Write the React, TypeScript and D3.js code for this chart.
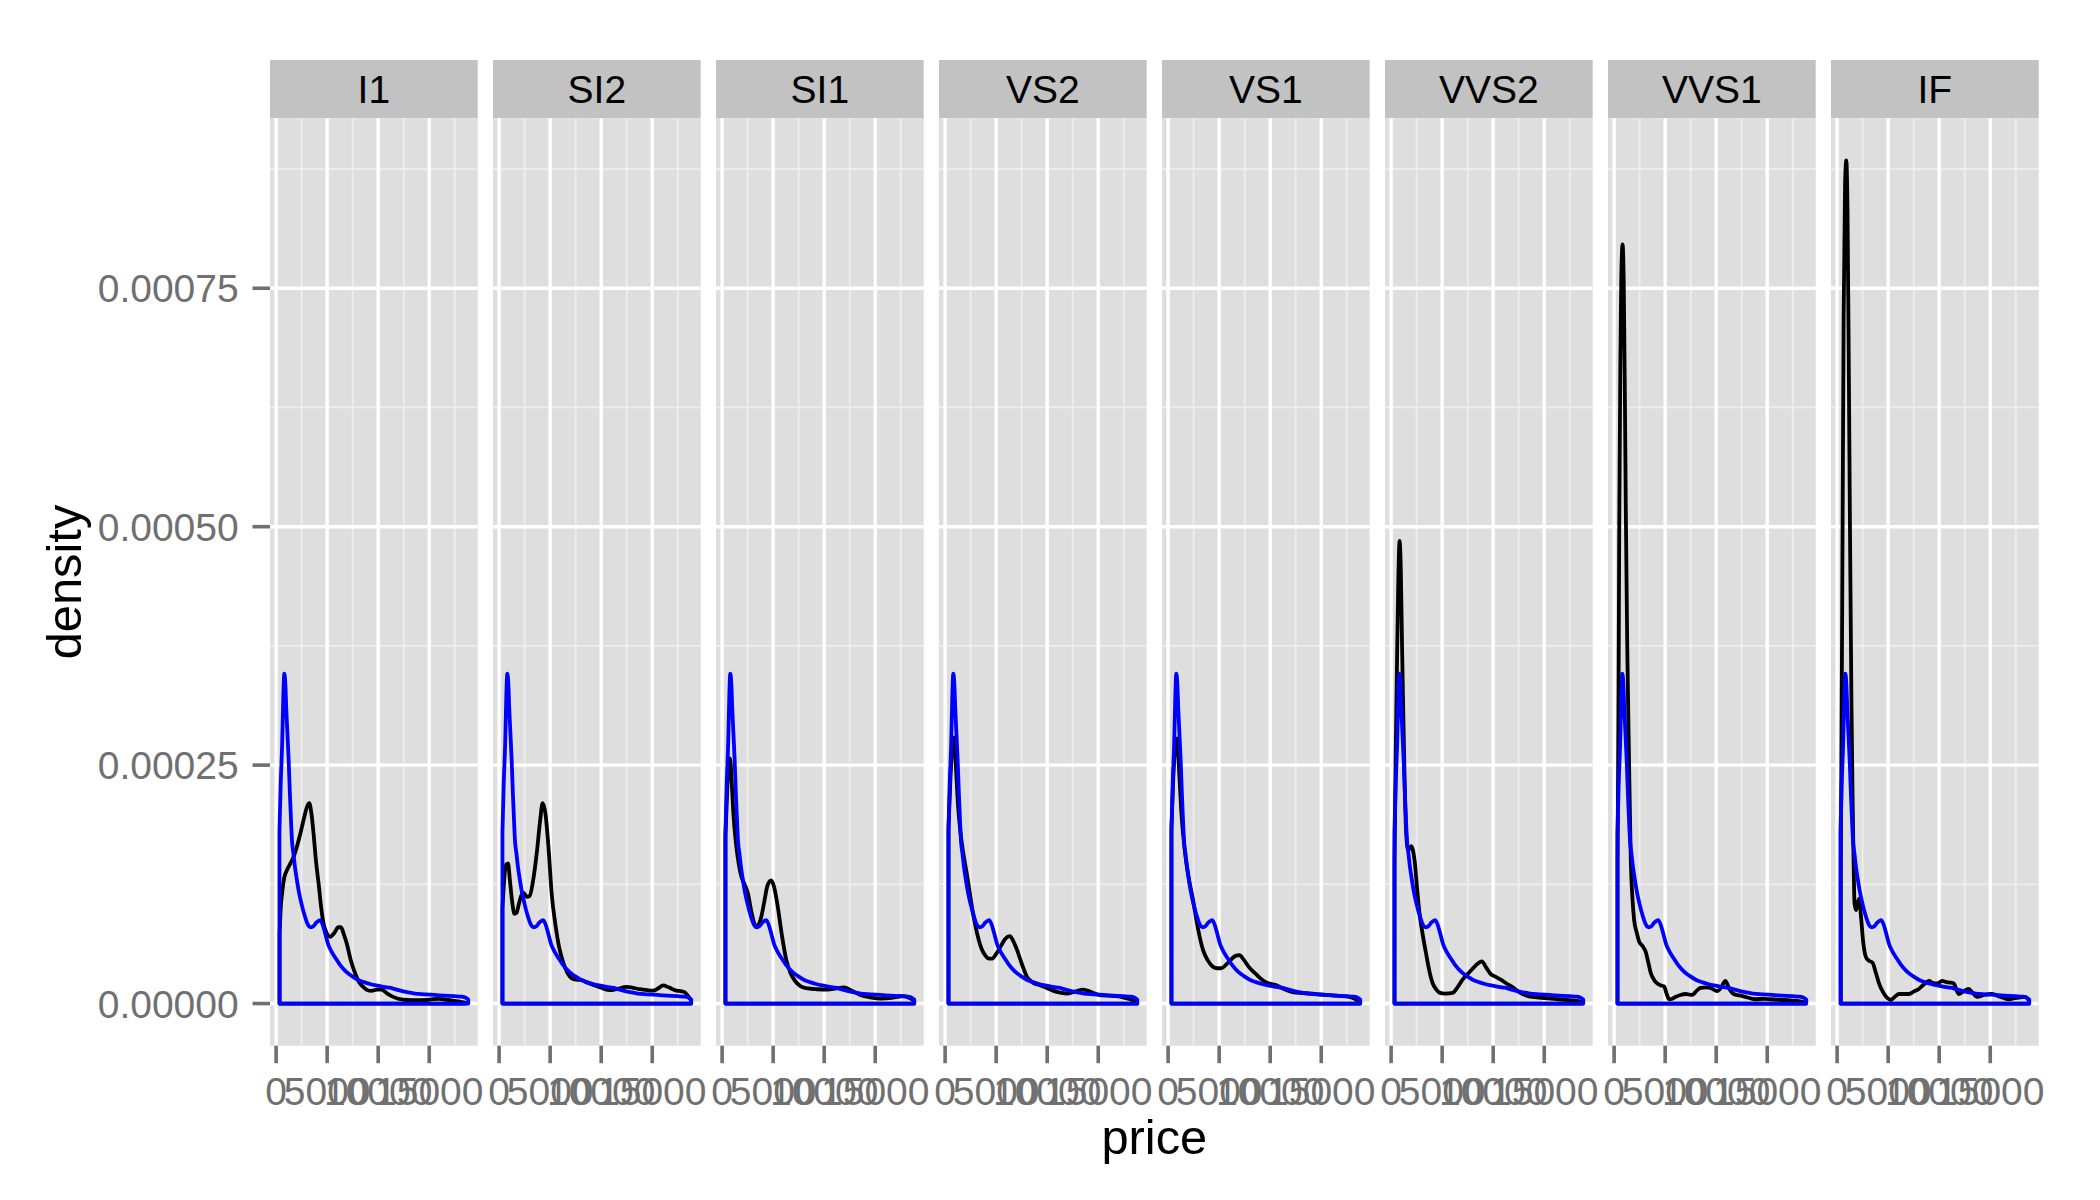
import React from 'react';
import * as d3 from 'd3';

// ---------- data ----------
const clarities = ['I1', 'SI2', 'SI1', 'VS2', 'VS1', 'VVS2', 'VVS1', 'IF'];
const xTicks = [0, 5000, 10000, 15000];
const xTickLabels = ['0', '5000', '10000', '15000'];
const xMinorTicks = [2500, 7500, 12500, 17500];
const yTicks = [0, 0.00025, 0.0005, 0.00075];
const yTickLabels = ['0.00000', '0.00025', '0.00050', '0.00075'];
const yMinorTicks = [0.000125, 0.000375, 0.000625, 0.000875];
const priceRange = [326, 18823];

// overall density of price (blue, same in every panel): [price, density]
const overallDensity: [number, number][] = [
  [326, 1.8e-4], [450, 2.3e-4], [600, 2.75e-4], [700, 3.2e-4], [800, 3.46e-4], [900, 3.36e-4],
  [1000, 3.08e-4], [1100, 2.85e-4], [1230, 2.55e-4], [1350, 2.2e-4], [1460, 1.92e-4], [1560, 1.7e-4],
  [1700, 1.57e-4], [1850, 1.43e-4], [2000, 1.32e-4], [2250, 1.16e-4], [2500, 1.04e-4], [2800, 0.92e-4],
  [3100, 0.83e-4], [3400, 0.8e-4], [3650, 0.81e-4], [3950, 0.85e-4], [4300, 0.875e-4], [4550, 0.83e-4],
  [4800, 0.74e-4], [5100, 0.62e-4], [5400, 0.55e-4], [5800, 0.48e-4], [6300, 0.4e-4], [6800, 0.34e-4],
  [7400, 0.29e-4], [8000, 0.25e-4], [8600, 0.225e-4], [9200, 0.205e-4], [9800, 0.19e-4], [10400, 0.178e-4],
  [11000, 0.168e-4], [11400, 0.16e-4], [12000, 0.14e-4], [12800, 0.12e-4], [13600, 0.105e-4],
  [14500, 0.097e-4], [15500, 0.09e-4], [16500, 0.083e-4], [17500, 0.077e-4], [18200, 0.072e-4],
  [18600, 0.06e-4], [18823, 0.04e-4],
];

const densityI1: [number, number][] = [
  [345, 0.73e-4], [450, 1.0e-4], [580, 1.15e-4], [800, 1.32e-4], [1070, 1.4e-4], [1400, 1.47e-4],
  [1720, 1.54e-4], [2050, 1.65e-4], [2370, 1.78e-4], [2700, 1.93e-4], [3020, 2.06e-4], [3250, 2.1e-4],
  [3450, 2.0e-4], [3670, 1.78e-4], [3900, 1.5e-4], [4160, 1.26e-4], [4400, 1.02e-4], [4640, 0.84e-4],
  [4950, 0.74e-4], [5290, 0.7e-4], [5700, 0.74e-4], [6100, 0.8e-4], [6350, 0.8e-4], [6650, 0.72e-4],
  [6920, 0.63e-4], [7300, 0.46e-4], [7730, 0.32e-4], [8150, 0.22e-4], [8540, 0.175e-4], [8950, 0.14e-4],
  [9350, 0.133e-4], [9850, 0.145e-4], [10330, 0.147e-4], [10900, 0.105e-4], [11470, 0.07e-4],
  [12440, 0.04e-4], [13200, 0.035e-4], [14070, 0.035e-4], [15000, 0.042e-4], [16020, 0.05e-4],
  [16700, 0.04e-4], [17320, 0.03e-4], [18000, 0.02e-4], [18531, 0.01e-4],
];

const densitySI2: [number, number][] = [
  [326, 1.0e-4], [500, 1.3e-4], [700, 1.46e-4], [880, 1.47e-4], [1050, 1.3e-4], [1300, 1.05e-4],
  [1500, 0.94e-4], [1700, 0.95e-4], [1950, 1.05e-4], [2200, 1.14e-4], [2410, 1.16e-4], [2700, 1.12e-4],
  [3000, 1.13e-4], [3300, 1.27e-4], [3710, 1.6e-4], [4000, 1.9e-4], [4260, 2.1e-4], [4550, 1.98e-4],
  [4850, 1.62e-4], [5150, 1.15e-4], [5500, 0.84e-4], [5900, 0.58e-4], [6310, 0.42e-4], [6700, 0.32e-4],
  [7120, 0.265e-4], [7600, 0.25e-4], [8100, 0.245e-4], [8600, 0.22e-4], [9230, 0.195e-4], [10000, 0.165e-4],
  [10860, 0.14e-4], [11600, 0.155e-4], [12480, 0.175e-4], [13100, 0.165e-4], [13780, 0.15e-4],
  [14500, 0.14e-4], [15080, 0.135e-4], [15600, 0.16e-4], [16060, 0.19e-4], [16600, 0.17e-4],
  [17360, 0.135e-4], [17800, 0.13e-4], [18170, 0.12e-4], [18500, 0.08e-4], [18804, 0.035e-4],
];

const densitySI1: [number, number][] = [
  [326, 1.75e-4], [450, 2.1e-4], [600, 2.45e-4], [780, 2.57e-4], [950, 2.3e-4], [1100, 2.0e-4],
  [1400, 1.64e-4], [1650, 1.45e-4], [1890, 1.33e-4], [2200, 1.25e-4], [2540, 1.15e-4], [2800, 1.0e-4],
  [3100, 0.86e-4], [3350, 0.8e-4], [3600, 0.83e-4], [3840, 0.91e-4], [4150, 1.08e-4], [4450, 1.24e-4],
  [4800, 1.29e-4], [5100, 1.22e-4], [5460, 1.01e-4], [5850, 0.72e-4], [6280, 0.46e-4], [6700, 0.32e-4],
  [7090, 0.245e-4], [7700, 0.18e-4], [8390, 0.158e-4], [9300, 0.15e-4], [10340, 0.147e-4],
  [11200, 0.16e-4], [11960, 0.168e-4], [12800, 0.13e-4], [13590, 0.088e-4], [14500, 0.065e-4],
  [15540, 0.052e-4], [16600, 0.06e-4], [17400, 0.074e-4], [17810, 0.077e-4], [18300, 0.06e-4],
  [18818, 0.03e-4],
];

const densityVS2: [number, number][] = [
  [334, 1.85e-4], [500, 2.3e-4], [700, 2.7e-4], [880, 2.79e-4], [1050, 2.5e-4], [1250, 2.1e-4],
  [1520, 1.78e-4], [1850, 1.53e-4], [2170, 1.33e-4], [2650, 1.0e-4], [3145, 0.73e-4], [3550, 0.58e-4],
  [3960, 0.5e-4], [4300, 0.47e-4], [4610, 0.47e-4], [5000, 0.52e-4], [5420, 0.594e-4], [5900, 0.68e-4],
  [6330, 0.706e-4], [6700, 0.65e-4], [7050, 0.56e-4], [7500, 0.42e-4], [8020, 0.28e-4], [8600, 0.22e-4],
  [9320, 0.193e-4], [10000, 0.16e-4], [10620, 0.133e-4], [11300, 0.115e-4], [11920, 0.105e-4],
  [12700, 0.125e-4], [13540, 0.147e-4], [14300, 0.12e-4], [15170, 0.088e-4], [16000, 0.082e-4],
  [16800, 0.077e-4], [17600, 0.06e-4], [18420, 0.035e-4], [18823, 0.015e-4],
];

const densityVS1: [number, number][] = [
  [327, 1.85e-4], [500, 2.35e-4], [700, 2.7e-4], [880, 2.78e-4], [1050, 2.5e-4], [1300, 2.0e-4],
  [1640, 1.6e-4], [2000, 1.33e-4], [2450, 1.08e-4], [2900, 0.8e-4], [3425, 0.56e-4], [3900, 0.45e-4],
  [4400, 0.385e-4], [4800, 0.37e-4], [5210, 0.37e-4], [5700, 0.41e-4], [6150, 0.46e-4], [6600, 0.5e-4],
  [7000, 0.507e-4], [7400, 0.46e-4], [7900, 0.385e-4], [8600, 0.31e-4], [9270, 0.245e-4], [9900, 0.21e-4],
  [10570, 0.193e-4], [11400, 0.15e-4], [12200, 0.12e-4], [13100, 0.11e-4], [14150, 0.105e-4],
  [14900, 0.095e-4], [15770, 0.088e-4], [16700, 0.08e-4], [17720, 0.07e-4], [18300, 0.05e-4],
  [18695, 0.018e-4], [18795, 0.01e-4],
];

const densityVVS2: [number, number][] = [
  [336, 1.5e-4], [450, 2.6e-4], [580, 3.6e-4], [700, 4.4e-4], [828, 4.85e-4], [950, 4.55e-4],
  [1080, 3.7e-4], [1200, 3.0e-4], [1330, 2.3e-4], [1480, 1.78e-4], [1650, 1.62e-4], [1800, 1.62e-4],
  [1966, 1.65e-4], [2150, 1.6e-4], [2300, 1.5e-4], [2550, 1.2e-4], [2780, 0.95e-4], [3100, 0.72e-4],
  [3430, 0.52e-4], [3750, 0.34e-4], [4080, 0.21e-4], [4400, 0.15e-4], [4730, 0.115e-4], [5300, 0.105e-4],
  [6030, 0.113e-4], [6500, 0.17e-4], [7000, 0.25e-4], [7500, 0.31e-4], [7980, 0.365e-4], [8500, 0.42e-4],
  [8890, 0.443e-4], [9300, 0.38e-4], [9760, 0.308e-4], [10250, 0.28e-4], [10740, 0.25e-4],
  [11300, 0.21e-4], [11880, 0.172e-4], [12700, 0.11e-4], [13500, 0.075e-4], [14500, 0.062e-4],
  [15450, 0.055e-4], [16400, 0.045e-4], [17400, 0.036e-4], [18200, 0.028e-4], [18700, 0.02e-4],
  [18768, 0.01e-4],
];

const densityVVS1: [number, number][] = [
  [336, 1.5e-4], [420, 2.9e-4], [504, 5.0e-4], [600, 6.6e-4], [700, 7.6e-4], [830, 7.96e-4],
  [950, 7.5e-4], [1060, 6.3e-4], [1153, 5.1e-4], [1280, 3.8e-4], [1413, 2.87e-4], [1530, 2.1e-4],
  [1641, 1.48e-4], [1800, 1.1e-4], [1966, 0.87e-4], [2200, 0.75e-4], [2453, 0.65e-4], [2800, 0.6e-4],
  [3103, 0.54e-4], [3350, 0.43e-4], [3590, 0.32e-4], [3900, 0.25e-4], [4240, 0.21e-4], [4600, 0.19e-4],
  [4890, 0.18e-4], [5150, 0.1e-4], [5377, 0.045e-4], [5700, 0.05e-4], [6027, 0.07e-4], [6500, 0.09e-4],
  [7002, 0.1e-4], [7652, 0.09e-4], [8050, 0.13e-4], [8464, 0.165e-4], [9000, 0.17e-4], [9439, 0.165e-4],
  [10089, 0.13e-4], [10500, 0.17e-4], [10901, 0.237e-4], [11300, 0.15e-4], [11713, 0.1e-4],
  [12300, 0.085e-4], [12851, 0.07e-4], [13826, 0.045e-4], [14600, 0.05e-4], [15450, 0.045e-4],
  [16300, 0.04e-4], [17074, 0.035e-4], [17700, 0.03e-4], [18373, 0.02e-4], [18777, 0.01e-4],
];

const densityIF: [number, number][] = [
  [369, 1.5e-4], [500, 4.2e-4], [640, 7.2e-4], [780, 8.6e-4], [900, 8.84e-4], [1020, 8.3e-4],
  [1150, 6.6e-4], [1280, 4.7e-4], [1400, 3.2e-4], [1510, 2.2e-4], [1620, 1.45e-4], [1706, 1.05e-4],
  [1850, 0.98e-4], [2000, 1.05e-4], [2160, 1.1e-4], [2350, 0.9e-4], [2550, 0.65e-4], [2811, 0.49e-4],
  [3100, 0.45e-4], [3460, 0.43e-4], [3800, 0.32e-4], [4110, 0.21e-4], [4500, 0.12e-4], [4900, 0.06e-4],
  [5247, 0.04e-4], [5650, 0.07e-4], [6059, 0.1e-4], [6500, 0.1e-4], [7034, 0.1e-4], [7500, 0.125e-4],
  [8009, 0.153e-4], [8500, 0.2e-4], [8984, 0.237e-4], [9400, 0.215e-4], [9796, 0.21e-4],
  [10284, 0.237e-4], [10700, 0.225e-4], [11096, 0.22e-4], [11421, 0.21e-4], [11908, 0.1e-4],
  [12400, 0.13e-4], [12883, 0.153e-4], [13300, 0.11e-4], [13695, 0.07e-4], [14400, 0.09e-4],
  [15157, 0.1e-4], [16000, 0.07e-4], [16782, 0.045e-4], [17600, 0.06e-4], [18406, 0.07e-4],
  [18806, 0.03e-4],
];

const clarityDensities = [
  densityI1, densitySI2, densitySI1, densityVS2, densityVS1, densityVVS2, densityVVS1, densityIF,
];

// ---------- layout ----------
const W = 2100;
const H = 1200;
const FONT = '"Liberation Sans", Arial, Helvetica, sans-serif';
const panelLeft0 = 270;
const panelWidth = 207.7;
const panelStep = 223;
const stripTop = 60;
const panelTop = 118.3;
const panelBottom = 1045.7;

const PANEL_BG = '#DEDEDE';
const STRIP_BG = '#C2C2C2';
const MINOR = '#EEEEEE';
const AXIS_GREY = '#707070';
const LINE_W = 3.8;

export default function App() {
  const xSpan = priceRange[1] - priceRange[0];
  const xDomain = [priceRange[0] - 0.05 * xSpan, priceRange[1] + 0.05 * xSpan];
  const yMax = d3.max(clarityDensities.concat([overallDensity]).flat(), (d) => d[1]) as number;
  const y = d3
    .scaleLinear()
    .domain([-0.05 * yMax, 1.05 * yMax])
    .range([panelBottom, panelTop]);

  const outline = (data: [number, number][], x: d3.ScaleLinear<number, number>) => {
    const line = d3
      .line<[number, number]>()
      .x((d) => x(d[0]))
      .y((d) => y(d[1]))
      .curve(d3.curveMonotoneX);
    const body = line(data) as string;
    const first = data[0];
    const last = data[data.length - 1];
    return `M${x(first[0])},${y(0)}L${body.slice(1)}L${x(last[0])},${y(0)}Z`;
  };

  return (
    <svg
      width={W}
      height={H}
      style={{ position: 'absolute', left: 0, top: 0, background: '#fff' }}
      fontFamily={FONT}
    >
      <rect x={0} y={0} width={W} height={H} fill="#fff" />
      {clarities.map((c, i) => {
        const left = panelLeft0 + i * panelStep;
        const x = d3.scaleLinear().domain(xDomain).range([left, left + panelWidth]);
        return (
          <g key={c}>
            {/* strip */}
            <rect x={left} y={stripTop} width={panelWidth} height={panelTop - stripTop} fill={STRIP_BG} />
            <text
              x={left + panelWidth / 2}
              y={(stripTop + panelTop) / 2}
              dy="0.36em"
              textAnchor="middle"
              fontSize={39}
              fill="#000"
            >
              {c}
            </text>
            {/* panel */}
            <rect x={left} y={panelTop} width={panelWidth} height={panelBottom - panelTop} fill={PANEL_BG} />
            {yMinorTicks.map((t) => (
              <line key={'ym' + t} x1={left} x2={left + panelWidth} y1={y(t)} y2={y(t)} stroke={MINOR} strokeWidth={1.8} />
            ))}
            {xMinorTicks.map((t) => (
              <line key={'xm' + t} x1={x(t)} x2={x(t)} y1={panelTop} y2={panelBottom} stroke={MINOR} strokeWidth={1.8} />
            ))}
            {yTicks.map((t) => (
              <line key={'yM' + t} x1={left} x2={left + panelWidth} y1={y(t)} y2={y(t)} stroke="#fff" strokeWidth={3.4} />
            ))}
            {xTicks.map((t) => (
              <line key={'xM' + t} x1={x(t)} x2={x(t)} y1={panelTop} y2={panelBottom} stroke="#fff" strokeWidth={3.4} />
            ))}
            {/* densities */}
            <path
              d={outline(clarityDensities[i], x)}
              fill="none"
              stroke="#000"
              strokeWidth={LINE_W}
              strokeLinejoin="round"
              strokeLinecap="round"
            />
            <path
              d={outline(overallDensity, x)}
              fill="none"
              stroke="#0000FF"
              strokeWidth={LINE_W}
              strokeLinejoin="round"
              strokeLinecap="round"
            />
            {/* x axis */}
            {xTicks.map((t, k) => (
              <g key={'xt' + t}>
                <line x1={x(t)} x2={x(t)} y1={panelBottom} y2={panelBottom + 17.5} stroke={AXIS_GREY} strokeWidth={3.6} />
                <text x={x(t)} y={1105} textAnchor="middle" fontSize={39} fill={AXIS_GREY}>
                  {xTickLabels[k]}
                </text>
              </g>
            ))}
          </g>
        );
      })}
      {/* y axis */}
      {yTicks.map((t, k) => (
        <g key={'yt' + t}>
          <line x1={panelLeft0 - 17.5} x2={panelLeft0} y1={y(t)} y2={y(t)} stroke={AXIS_GREY} strokeWidth={3.6} />
          <text x={238.7} y={y(t)} dy="0.36em" textAnchor="end" fontSize={39} fill={AXIS_GREY}>
            {yTickLabels[k]}
          </text>
        </g>
      ))}
      <text
        x={(panelLeft0 + panelLeft0 + 7 * panelStep + panelWidth) / 2}
        y={1154}
        textAnchor="middle"
        fontSize={48.8}
        fill="#000"
      >
        price
      </text>
      <text
        transform={`translate(81,${(panelTop + panelBottom) / 2}) rotate(-90)`}
        textAnchor="middle"
        fontSize={48.8}
        fill="#000"
      >
        density
      </text>
    </svg>
  );
}
